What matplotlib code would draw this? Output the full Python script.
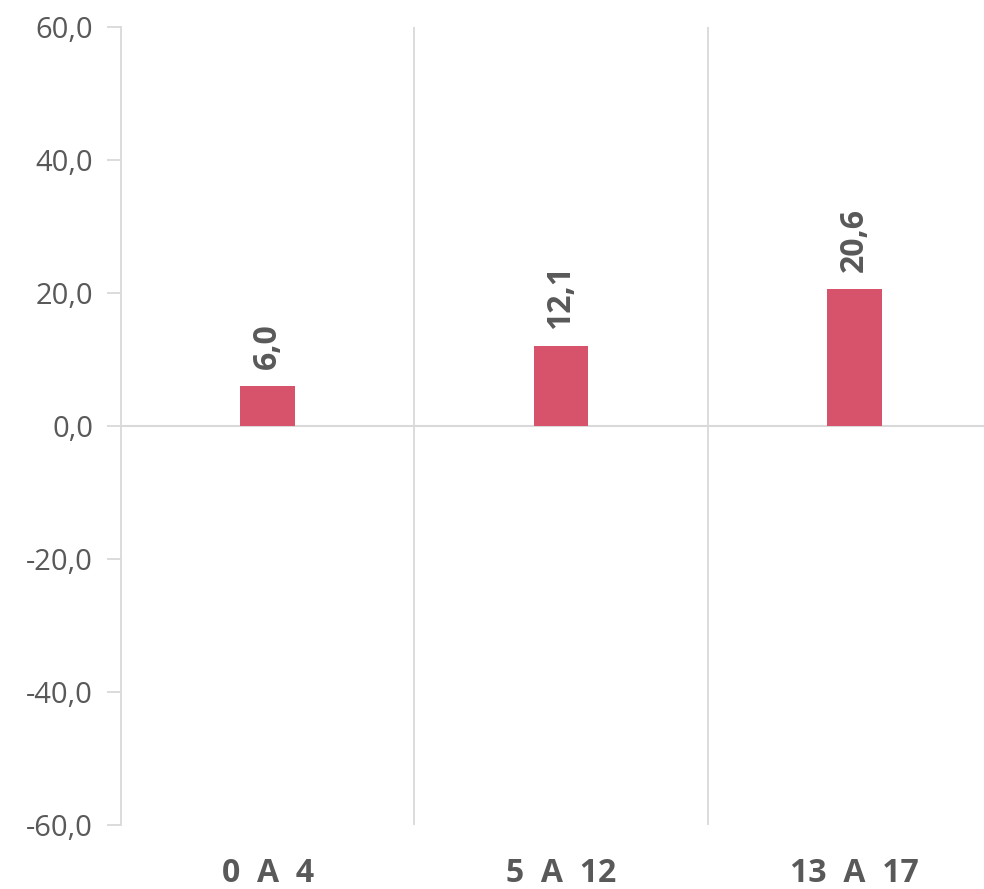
import matplotlib
matplotlib.use("Agg")
import matplotlib.pyplot as plt
import numpy as np

categories = ["0  A  4", "5  A  12", "13  A  17"]
values = [6.0, 12.1, 20.6]
yticks = [-60, -40, -20, 0, 20, 40, 60]

bar_color = "#D6536B"
text_color = "#595959"
grid_color = "#D9D9D9"

plt.rcParams['font.family'] = ['Open Sans', 'DejaVu Sans']

fig = plt.figure(figsize=(9.84, 8.89), dpi=100)
ax = fig.add_axes([121/984, 1-825/889, (1001-121)/984, (825-27)/889])

x = np.arange(len(categories))
ax.bar(x, values, width=0.187, color=bar_color, zorder=3)
ax.set_xlim(-0.5, len(categories) - 0.5)
ax.set_ylim(-60, 60)

ax.set_yticks(yticks)
ax.set_yticklabels([f"{v:.1f}".replace(".", ",") for v in yticks],
                   fontsize=21, color=text_color)
ax.tick_params(axis='y', length=10, width=1.3, color=grid_color, pad=10)

ax.set_xticks([])
for b in np.arange(0.5, len(categories) - 0.5, 1.0):
    ax.axvline(b, color=grid_color, lw=1.3, zorder=1)
ax.axhline(0, color=grid_color, lw=1.5, zorder=2)

for s in ['top', 'right', 'bottom']:
    ax.spines[s].set_visible(False)
ax.spines['left'].set_color(grid_color)
ax.spines['left'].set_linewidth(1.3)

for xi, v in zip(x, values):
    ax.annotate(f"{v:.1f}".replace(".", ","), (xi, v), xytext=(0, 12),
                textcoords='offset points', rotation=90, ha='center', va='bottom',
                fontsize=23, fontweight='bold', color=text_color)

for xi, c in zip(x, categories):
    ax.annotate(c, (xi, 0), xycoords=('data', 'axes fraction'), xytext=(0, -35),
                textcoords='offset points', ha='center', va='center',
                fontsize=23, fontweight='bold', color=text_color)

fig.savefig("out.png", dpi=100)
